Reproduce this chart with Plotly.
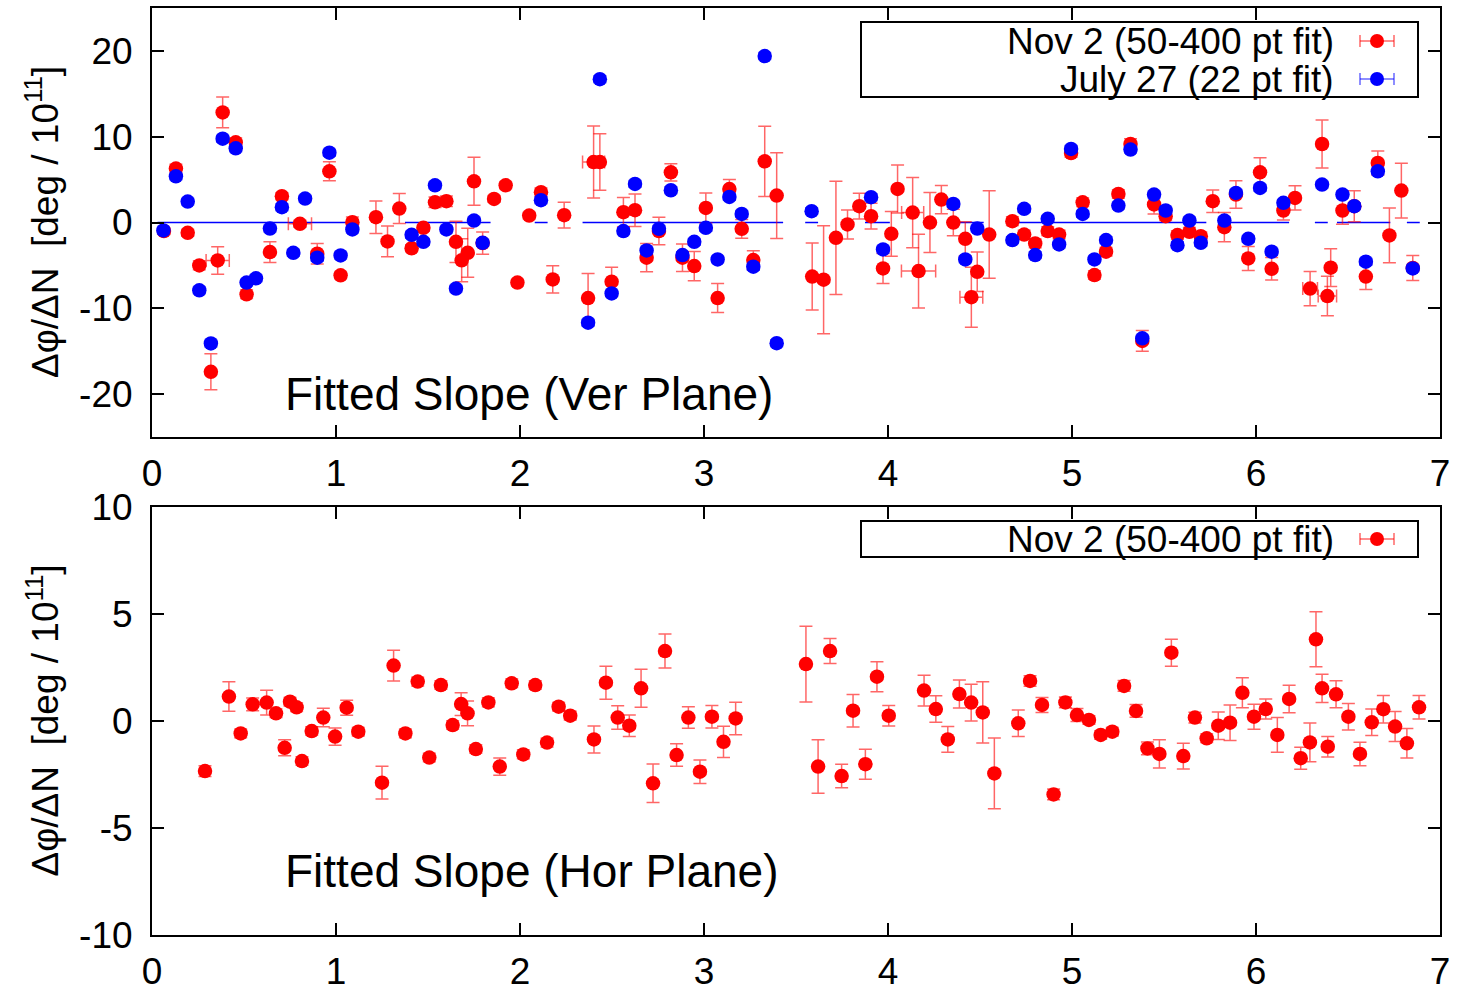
import plotly.graph_objects as go

# ---------------- data: top panel (vertical plane) ----------------
nov_v_x = [0.065, 0.13, 0.194, 0.257, 0.32, 0.357, 0.384, 0.455, 0.514, 0.641, 0.706, 0.804, 0.898, 0.964,
           1.025, 1.089, 1.217, 1.28, 1.344, 1.411, 1.475, 1.538, 1.60, 1.652, 1.683, 1.716, 1.75, 1.797,
           1.859, 1.922, 1.986, 2.05, 2.114, 2.178, 2.24, 2.37, 2.40, 2.434, 2.498, 2.562, 2.625, 2.688,
           2.755, 2.82, 2.883, 2.947, 3.01, 3.074, 3.138, 3.205, 3.268, 3.33, 3.395, 3.588, 3.65, 3.717,
           3.78, 3.844, 3.908, 3.973, 4.018, 4.052, 4.134, 4.166, 4.228, 4.29, 4.355, 4.42, 4.453, 4.485,
           4.55, 4.676, 4.74, 4.8, 4.868, 4.93, 4.995, 5.058, 5.122, 5.185, 5.252, 5.318, 5.382, 5.446,
           5.509, 5.573, 5.638, 5.70, 5.765, 5.828, 5.891, 5.958, 6.022, 6.085, 6.149, 6.212, 6.294,
           6.359, 6.388, 6.406, 6.47, 6.534, 6.597, 6.662, 6.725, 6.79, 6.852]
nov_v_y = [-1.0, 6.28, -1.2, -5.0, -17.4, -4.42, 12.83, 9.34, -8.37, -3.45, 3.06, -0.15, -3.64, 5.97,
           -6.16, 0.04, 0.62, -2.2, 1.63, -3.0, -0.62, 2.36, 2.48, -2.25, -4.4, -3.53, 4.8, -2.4,
           2.75, 4.34, -7.0, 0.81, 3.53, -6.63, 0.85, -8.8, 7.05, 7.05, -6.9, 1.2, 1.43, -4.1,
           -1.0, 5.85, -4.1, -5.08, 1.7, -8.8, 3.9, -0.74, -4.38, 7.13, 3.14, -6.3, -6.67, -1.78,
           -0.23, 1.9, 0.74, -5.35, -1.32, 3.91, 1.16, -5.66, 0.0, 2.67, 0.0, -1.9, -8.7, -5.74,
           -1.4, 0.16, -1.4, -2.44, -1.0, -1.4, 8.1, 2.36, -6.12, -3.4, 3.33, 9.15, -13.8, 2.1,
           0.74, -1.47, -1.08, -1.6, 2.48, -0.54, 3.26, -4.19, 5.85, -5.39, 1.4, 2.87, -7.7,
           9.15, -8.57, -5.27, 1.4, 1.9, -6.3, 6.94, -1.5, 3.72, -5.3]
nov_v_ey = [0.4, 0.5, 0.4, 0.5, 2.1, 1.6, 1.8, 0.5, 0.5, 1.2, 0.4, 0.4, 1.2, 1.1,
            0.4, 0.6, 1.9, 1.8, 1.74, 0.4, 0.4, 0.6, 0.6, 2.4, 2.5, 2.85, 2.8, 1.3,
            0.4, 0.4, 0.4, 0.4, 0.5, 1.6, 1.5, 2.87, 4.2, 3.3, 1.7, 1.7, 1.9, 1.65,
            1.6, 1.0, 1.6, 1.7, 1.75, 1.7, 1.1, 1.1, 1.1, 4.1, 5.0, 3.9, 6.3, 6.6,
            1.7, 1.5, 1.5, 1.75, 2.6, 2.8, 4.1, 4.3, 3.5, 1.65, 1.55, 2.0, 3.5, 2.3,
            5.1, 0.5, 0.5, 0.5, 0.5, 0.5, 0.5, 0.5, 0.5, 0.5, 0.5, 0.6, 1.2, 1.1,
            0.5, 0.5, 0.5, 0.5, 1.3, 1.7, 1.6, 1.4, 1.7, 1.3, 1.1, 1.4, 2.0,
            2.8, 2.3, 2.2, 1.6, 1.8, 1.5, 1.4, 3.2, 3.2, 1.45]
nov_v_ex = [0, 0, 0, 0, 0, 0.063, 0, 0, 0, 0, 0, 0.063, 0, 0,
            0, 0, 0, 0, 0, 0, 0, 0, 0, 0, 0, 0, 0, 0,
            0, 0, 0, 0, 0, 0, 0, 0, 0.06, 0, 0, 0, 0, 0,
            0, 0, 0, 0, 0, 0, 0, 0, 0, 0, 0, 0, 0, 0,
            0, 0, 0, 0, 0, 0, 0.06, 0.093, 0, 0, 0, 0, 0.062, 0,
            0, 0, 0, 0, 0, 0, 0, 0, 0, 0, 0, 0, 0, 0,
            0, 0, 0, 0, 0, 0, 0, 0, 0, 0, 0, 0, 0.04,
            0, 0.05, 0, 0, 0, 0, 0, 0, 0, 0]

jul_v_x = [0.062, 0.13, 0.194, 0.257, 0.32, 0.384, 0.455, 0.514, 0.565, 0.641, 0.706, 0.768, 0.832, 0.898,
           0.964, 1.025, 1.089, 1.411, 1.475, 1.538, 1.60, 1.652, 1.75, 1.797, 2.114, 2.37, 2.434, 2.498,
           2.562, 2.625, 2.688, 2.755, 2.82, 2.883, 2.947, 3.01, 3.074, 3.138, 3.205, 3.268, 3.33, 3.395,
           3.585, 3.908, 3.973, 4.355, 4.42, 4.485, 4.676, 4.74, 4.8, 4.868, 4.93, 4.995, 5.058, 5.122,
           5.185, 5.252, 5.318, 5.382, 5.446, 5.509, 5.573, 5.638, 5.70, 5.828, 5.891, 5.958, 6.022,
           6.085, 6.149, 6.359, 6.47, 6.534, 6.597, 6.662, 6.852]
jul_v_y = [-0.93, 5.39, 2.44, -7.9, -14.1, 9.77, 8.64, -7.0, -6.5, -0.7, 1.78, -3.53, 2.79, -4.1,
           8.14, -3.84, -0.81, -1.43, -2.25, 4.34, -0.81, -7.7, 0.23, -2.36, 2.6, -11.67, 16.7, -8.26,
           -1.0, 4.5, -3.26, -0.74, 3.76, -3.8, -2.25, -0.62, -4.3, 2.98, 1.0, -5.15, 19.4, -14.07,
           1.32, 2.95, -3.14, 2.17, -4.3, -0.7, -2.05, 1.6, -3.8, 0.43, -2.56, 8.57, 1.0, -4.3,
           -2.05, 1.98, 8.5, -13.5, 3.26, 1.4, -2.64, 0.23, -2.36, 0.23, 3.45, -1.9, 4.03,
           -3.4, 2.29, 4.42, 3.26, 1.9, -4.57, 5.97, -5.35]
jul_v_ey = [0.4] * len(jul_v_x)

# blue reference line at zero (segments)
ref_x = [0.03, 1.12, None, 1.375, 1.84, None, 2.08, 2.15, None, 2.34, 3.43, None, 3.55, 3.62, None,
         3.875, 4.01, None, 4.32, 4.52, None, 4.65, 5.73, None, 5.82, 6.18, None, 6.32, 6.39, None,
         6.44, 6.73, None, 6.82, 6.89]
ref_y = [0 if v is not None else None for v in ref_x]

# ---------------- data: bottom panel (horizontal plane) ----------------
nov_h_x = [0.288, 0.418, 0.482, 0.547, 0.623, 0.674, 0.721, 0.75, 0.786, 0.815, 0.868, 0.931, 0.995, 1.058,
           1.121, 1.25, 1.313, 1.377, 1.444, 1.507, 1.57, 1.634, 1.68, 1.715, 1.76, 1.828, 1.89, 1.955,
           2.018, 2.083, 2.147, 2.21, 2.273, 2.402, 2.467, 2.531, 2.594, 2.658, 2.723, 2.788, 2.851,
           2.915, 2.978, 3.043, 3.106, 3.172, 3.554, 3.62, 3.685, 3.748, 3.81, 3.877, 3.94, 4.004,
           4.196, 4.26, 4.325, 4.388, 4.452, 4.515, 4.578, 4.708, 4.772, 4.837, 4.9, 4.964, 5.027,
           5.092, 5.156, 5.219, 5.283, 5.348, 5.41, 5.475, 5.54, 5.605, 5.668, 5.732, 5.795, 5.859,
           5.926, 5.989, 6.053, 6.116, 6.18, 6.243, 6.293, 6.326, 6.359, 6.39, 6.435, 6.502, 6.565,
           6.629, 6.692, 6.756, 6.82, 6.886]
nov_h_y = [-2.34, 1.14, -0.58, 0.78, 0.86, 0.36, -1.25, 0.9, 0.64, -1.87, -0.47, 0.16, -0.73, 0.62,
           -0.5, -2.88, 2.59, -0.58, 1.84, -1.71, 1.68, -0.19, 0.79, 0.36, -1.31, 0.87, -2.13, 1.76,
           -1.56, 1.68, -1.01, 0.67, 0.25, -0.86, 1.79, 0.16, -0.22, 1.53, -2.91, 3.27, -1.59,
           0.16, -2.37, 0.2, -0.97, 0.12, 2.66, -2.13, 3.27, -2.57, 0.48, -2.02, 2.07, 0.25,
           1.42, 0.56, -0.86, 1.26, 0.86, 0.4, -2.45, -0.11, 1.87, 0.75, -3.43, 0.87, 0.28,
           0.05, -0.65, -0.5, 1.64, 0.47, -1.28, -1.54, 3.19, -1.64, 0.16, -0.81, -0.22, -0.08,
           1.32, 0.2, 0.56, -0.65, 1.03, -1.74, -1.0, 3.82, 1.53, -1.2, 1.25, 0.2, -1.54,
           -0.06, 0.55, -0.26, -1.04, 0.64]
nov_h_ey = [0.25, 0.69, 0.2, 0.3, 0.58, 0.2, 0.37, 0.2, 0.2, 0.2, 0.2, 0.43, 0.4, 0.35,
            0.2, 0.76, 0.72, 0.2, 0.2, 0.2, 0.2, 0.2, 0.53, 0.58, 0.2, 0.2, 0.4, 0.2,
            0.2, 0.2, 0.2, 0.2, 0.2, 0.63, 0.77, 0.55, 0.5, 0.89, 0.9, 0.79, 0.53,
            0.5, 0.55, 0.53, 0.73, 0.76, 1.77, 1.25, 0.58, 0.55, 0.76, 0.7, 0.7, 0.48,
            0.72, 0.62, 0.6, 0.65, 0.86, 1.43, 1.65, 0.62, 0.25, 0.35, 0.25, 0.25, 0.3,
            0.2, 0.2, 0.2, 0.25, 0.3, 0.3, 0.66, 0.63, 0.6, 0.25, 0.2, 0.64, 0.83,
            0.7, 0.58, 0.47, 0.81, 0.64, 0.51, 0.91, 1.28, 0.66, 0.48, 0.63, 0.62, 0.55,
            0.62, 0.64, 0.7, 0.69, 0.55]

x_ticks = [0, 1, 2, 3, 4, 5, 6, 7]
x_ticktext = ["0", "1", "2", "3", "4", "5", "6", "7"]
y1_ticks = [-20, -10, 0, 10, 20]
y1_ticktext = ["-20", "-10", "0", "10", "20"]
y2_ticks = [-10, -5, 0, 5, 10]
y2_ticktext = ["-10", "-5", "0", "5", "10"]

label_nov = "Nov 2 (50-400 pt fit)"
label_jul = "July 27 (22 pt fit)"

# ---------------- styling ----------------
FONT = "Liberation Sans, Arial, Helvetica, sans-serif"
RED = "#ff0000"
BLUE = "#0000ff"
RED_ERR = "rgba(255,0,0,0.6)"
BLUE_ERR = "rgba(0,0,255,0.6)"
MSIZE = 14.5

fig = go.Figure()

fig.add_trace(go.Scatter(x=ref_x, y=ref_y, mode="lines", line=dict(color=BLUE, width=1.5),
                         xaxis="x", yaxis="y", showlegend=False, hoverinfo="skip", connectgaps=False))

fig.add_trace(go.Scatter(
    x=nov_v_x, y=nov_v_y, mode="markers", name=label_nov, xaxis="x", yaxis="y",
    marker=dict(color=RED, size=MSIZE, line=dict(width=0)),
    error_y=dict(type="data", array=nov_v_ey, color=RED_ERR, thickness=1.5, width=6.5),
    error_x=dict(type="data", array=nov_v_ex, color=RED_ERR, thickness=1.5, width=6.5),
    showlegend=False))

fig.add_trace(go.Scatter(
    x=jul_v_x, y=jul_v_y, mode="markers", name=label_jul, xaxis="x", yaxis="y",
    marker=dict(color=BLUE, size=MSIZE, line=dict(width=0)),
    error_y=dict(type="data", array=jul_v_ey, color=BLUE_ERR, thickness=1.5, width=6.5),
    showlegend=False))

fig.add_trace(go.Scatter(
    x=nov_h_x, y=nov_h_y, mode="markers", name=label_nov, xaxis="x2", yaxis="y2",
    marker=dict(color=RED, size=MSIZE, line=dict(width=0)),
    error_y=dict(type="data", array=nov_h_ey, color=RED_ERR, thickness=1.5, width=6.5),
    showlegend=False))

axis_common = dict(showline=True, linecolor="black", linewidth=2, mirror="allticks",
                   ticks="inside", ticklen=12, tickwidth=2, tickcolor="black",
                   showgrid=False, zeroline=False, automargin=False,
                   tickfont=dict(family=FONT, size=37, color="black"))

TOP_DOM = [0.5372, 1.0]
BOT_DOM = [0.0, 0.4617]

fig.update_layout(
    template="none",
    width=1459, height=990,
    margin=dict(l=152, r=19, t=8, b=55, autoexpand=False),
    paper_bgcolor="white", plot_bgcolor="white",
    font=dict(family=FONT, color="black"),
    xaxis=dict(domain=[0, 1], anchor="y", range=[0, 7], tickvals=x_ticks, ticktext=x_ticktext,
               ticklabelstandoff=3, **axis_common),
    yaxis=dict(domain=TOP_DOM, anchor="x", range=[-25, 25], tickvals=y1_ticks, ticktext=y1_ticktext,
               ticklabelstandoff=10, **axis_common),
    xaxis2=dict(domain=[0, 1], anchor="y2", range=[0, 7], tickvals=x_ticks, ticktext=x_ticktext,
                ticklabelstandoff=3, **axis_common),
    yaxis2=dict(domain=BOT_DOM, anchor="x2", range=[-10, 10], tickvals=y2_ticks, ticktext=y2_ticktext,
                ticklabelstandoff=10, **axis_common),
    showlegend=False,
)

ytitle = "Δφ/ΔN  [deg / 10<sup>11</sup>]"
annotations = []
for dom in (TOP_DOM, BOT_DOM):
    annotations.append(dict(text=ytitle, xref="paper", yref="paper", x=-0.085, y=(dom[0] + dom[1]) / 2,
                            xanchor="center", yanchor="middle", textangle=-90, showarrow=False,
                            font=dict(family=FONT, size=37, color="black")))
annotations.append(dict(text="Fitted Slope (Ver Plane)", xref="x", yref="y", x=0.712, y=-20,
                        xanchor="left", yanchor="middle", showarrow=False,
                        font=dict(family=FONT, size=46, color="black")))
annotations.append(dict(text="Fitted Slope (Hor Plane)", xref="x2", yref="y2", x=0.712, y=-7,
                        xanchor="left", yanchor="middle", showarrow=False,
                        font=dict(family=FONT, size=46, color="black")))

# ---------------- manual legends (gnuplot style: text right, sample at far right) ----------------
PW, PH = 1288.0, 927.0   # plot-area size in pixels
def px_x(p):
    return (p - 152) / PW
def px_y(p):
    return (935 - p) / PH

shapes = []
def legend_box(top, bottom):
    shapes.append(dict(type="rect", xref="paper", yref="paper", x0=px_x(861), x1=px_x(1418),
                       y0=px_y(bottom), y1=px_y(top), line=dict(color="black", width=2),
                       fillcolor="white", layer="above"))

def legend_row(ypx, text, color, errcolor):
    annotations.append(dict(text=text, xref="paper", yref="paper", x=px_x(1336), y=px_y(ypx),
                            xanchor="right", yanchor="middle", showarrow=False,
                            font=dict(family=FONT, size=37, color="black")))
    shapes.append(dict(type="line", xref="paper", yref="paper", x0=px_x(1360), x1=px_x(1394),
                       y0=px_y(ypx), y1=px_y(ypx), line=dict(color=errcolor, width=1.5), layer="above"))
    for cx in (1360, 1394):
        shapes.append(dict(type="line", xref="paper", yref="paper", x0=px_x(cx), x1=px_x(cx),
                           y0=px_y(ypx - 6), y1=px_y(ypx + 6), line=dict(color=errcolor, width=1.5),
                           layer="above"))
    shapes.append(dict(type="circle", xref="paper", yref="paper", x0=px_x(1377 - 7), x1=px_x(1377 + 7),
                       y0=px_y(ypx + 7), y1=px_y(ypx - 7), fillcolor=color, line=dict(width=0),
                       layer="above"))

legend_box(22, 97)
legend_row(41, label_nov, RED, RED_ERR)
legend_row(79, label_jul, BLUE, BLUE_ERR)
legend_box(521, 557)
legend_row(539, label_nov, RED, RED_ERR)

fig.update_layout(annotations=annotations, shapes=shapes)

fig.write_html("out.html")
